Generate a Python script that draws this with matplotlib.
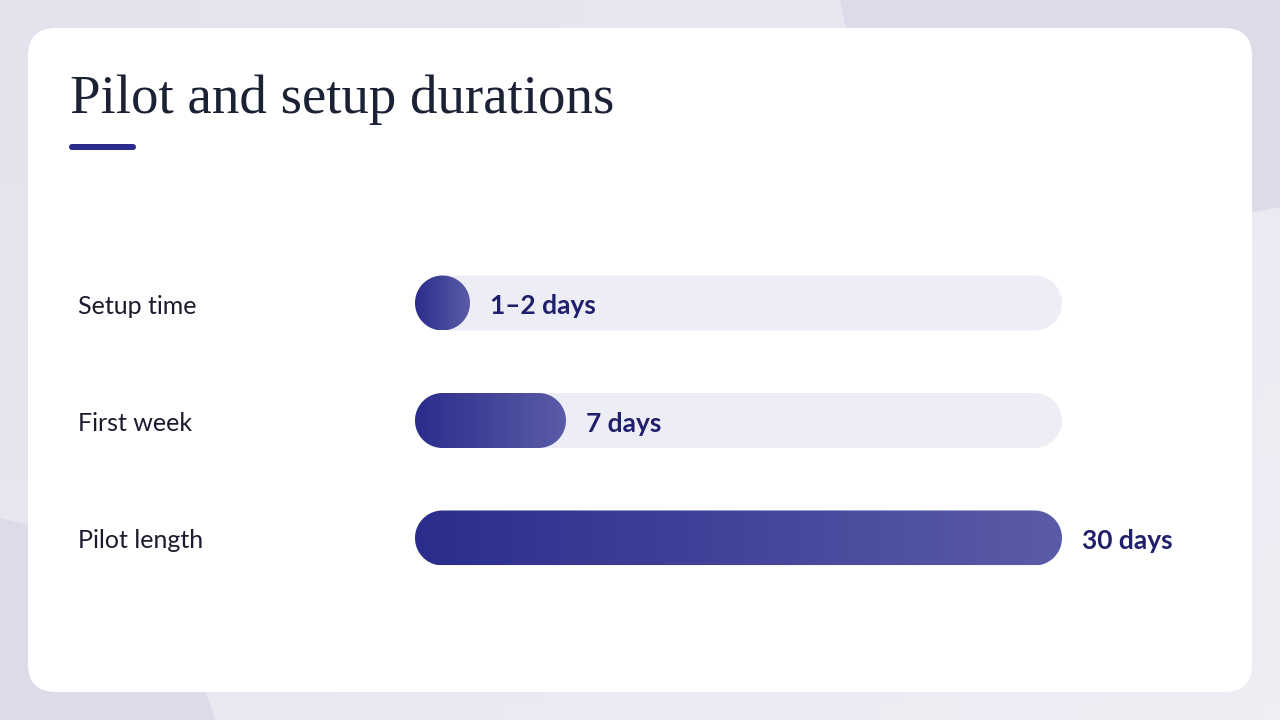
import numpy as np
import matplotlib.pyplot as plt
import matplotlib.transforms as mtransforms
from matplotlib.patches import FancyBboxPatch, Polygon
from matplotlib.colors import LinearSegmentedColormap

# Data
categories = ['Setup time', 'First week', 'Pilot length']
days = [1.5, 7, 30]
value_labels = ['1–2 days', '7 days', '30 days']
axis_max = 30
title = 'Pilot and setup durations'

# Colours
track_color = '#EDEDF6'
fill_cmap = LinearSegmentedColormap.from_list('fill', ['#2B2D8C', '#5A5CA8'])
bg_cmap = LinearSegmentedColormap.from_list('bg', ['#E3E3EE', '#EEEEF5'])
shape_color = '#DCDBEA'


def capsule(x0, x1, yc, rx, ry, **kw):
    # pill shape with true elliptical ends (data units differ in x and y)
    t = np.linspace(np.pi / 2, 3 * np.pi / 2, 40)
    left = np.column_stack([x0 + rx + rx * np.cos(t), yc + ry * np.sin(t)])
    t2 = np.linspace(-np.pi / 2, np.pi / 2, 40)
    right = np.column_stack([x1 - rx + rx * np.cos(t2), yc + ry * np.sin(t2)])
    return Polygon(np.vstack([left, right]), closed=True, **kw)


fig = plt.figure(figsize=(12.8, 7.2), dpi=100)

# Background layer in pixel coordinates
bg = fig.add_axes([0, 0, 1, 1])
gx, gy = np.meshgrid(np.linspace(0, 1, 64), np.linspace(0, 1, 36))
bg.imshow(gx * 0.6 + gy * 0.4, cmap=bg_cmap, extent=[0, 1280, 720, 0], aspect='auto', zorder=0)
bg.add_patch(Polygon([(840, 0), (1280, 0), (1280, 207), (900, 280)], closed=True,
                     fc=shape_color, ec='none', zorder=1))
bg.add_patch(Polygon([(0, 518), (163, 559), (215, 720), (0, 720)], closed=True,
                     fc=shape_color, ec='none', zorder=1))
bg.add_patch(FancyBboxPatch((28, 28), 1224, 664, boxstyle='round,pad=0,rounding_size=28',
                            fc='white', ec='none', zorder=2))
bg.text(70, 113, title, va='baseline', ha='left', fontsize=39.5,
        family='Liberation Serif', color='#1C2235', zorder=3)
bg.add_patch(FancyBboxPatch((69, 144), 67, 6, boxstyle='round,pad=0,rounding_size=3',
                            fc='#2B2D8E', ec='none', zorder=3))
bg.set_xlim(0, 1280)
bg.set_ylim(720, 0)
bg.axis('off')

# Bar layer
left_px, right_px = 415, 1062
top_px, bot_px = 250, 590
row_px = 117.5
first_row_px = 303
bar_px = 55
ax = fig.add_axes([left_px / 1280, (720 - bot_px) / 720,
                   (right_px - left_px) / 1280, (bot_px - top_px) / 720])
ax.patch.set_alpha(0)

x_per_px = axis_max / (right_px - left_px)
bh = bar_px / row_px
rx = (bar_px / 2) * x_per_px
ry = bh / 2
min_w = bar_px * x_per_px

label_trans = mtransforms.blended_transform_factory(fig.transFigure, ax.transData)
label_trans = label_trans + mtransforms.ScaledTranslation(0, -3 / 100, fig.dpi_scale_trans)

for i, (cat, d, lab) in enumerate(zip(categories, days, value_labels)):
    ax.add_patch(capsule(0, axis_max, i, rx, ry, fc=track_color, ec='none', zorder=1))
    w = max(d, min_w)
    fill = capsule(0, w, i, rx, ry, fc='none', ec='none', zorder=2)
    ax.add_patch(fill)
    im = ax.imshow(np.linspace(0, 1, 256).reshape(1, -1), cmap=fill_cmap,
                   extent=[0, w, i + ry, i - ry], aspect='auto', zorder=3)
    im.set_clip_path(fill)
    ax.annotate(lab, xy=(w, i), xytext=(20, -3), textcoords='offset pixels',
                va='center', ha='left', fontsize=19, fontweight='bold',
                family='Lato', color='#1F1F6B')
    ax.text(78 / 1280, i, cat, transform=label_trans, va='center', ha='left',
            fontsize=18, family='Lato', color='#1B1B2F')

ax.set_xlim(0, axis_max)
ax.set_ylim((bot_px - first_row_px) / row_px, -(first_row_px - top_px) / row_px)
ax.axis('off')

fig.savefig('out.png', dpi=100)
